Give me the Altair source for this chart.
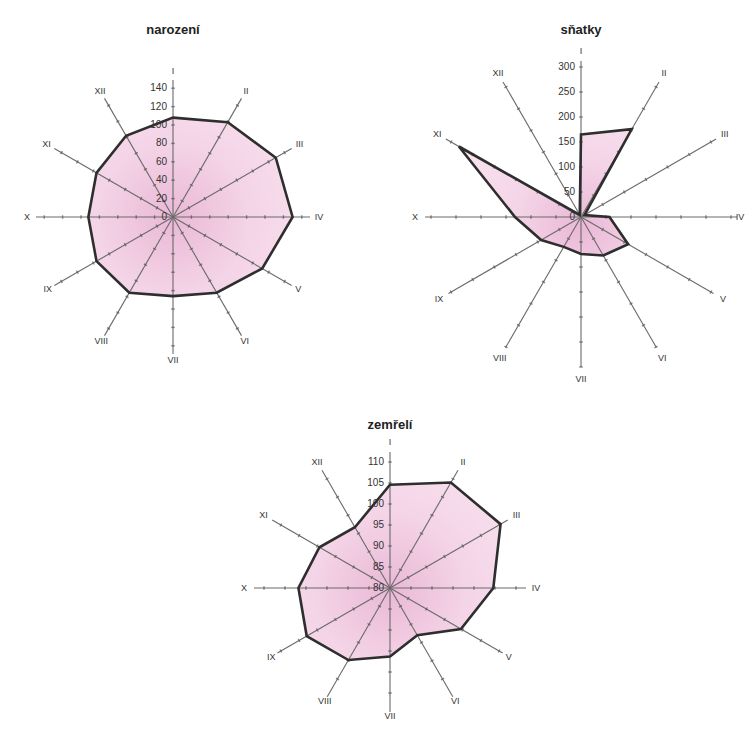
import math
import altair as alt
import pandas as pd

# ---- data ----
months = ["I", "II", "III", "IV", "V", "VI", "VII", "VIII", "IX", "X", "XI", "XII"]
narozeni = [108, 119, 129, 130, 112, 95, 86, 95, 96, 92, 96, 102]
snatky = [165, 203, 8, 57, 109, 89, 74, 69, 92, 132, 282, 5]
zemreli = [104.6, 109.0, 110.4, 104.6, 99.5, 93.0, 96.3, 99.8, 102.9, 101.8, 99.4, 96.7]
ticks_narozeni = [0, 20, 40, 60, 80, 100, 120, 140]
ticks_snatky = [0, 50, 100, 150, 200, 250, 300]
ticks_zemreli = [80, 85, 90, 95, 100, 105, 110]
titles = ["narození", "sňatky", "zemřelí"]

# ---- layout (page pixel coordinates) ----
layout = [
    dict(cx=173, cy=217, base=0, k=0.92, axis_r=137, axis_rb=137, label_r=146, label_rb=143, title_dy=-187),
    dict(cx=581, cy=217, base=0, k=0.50, axis_r=156, axis_rb=150, label_r=166, label_rb=162, title_dy=-187),
    dict(cx=390, cy=588, base=80, k=4.2, axis_r=136, axis_rb=124, label_r=146, label_rb=128, title_dy=-163),
]
series = [narozeni, snatky, zemreli]
tick_sets = [ticks_narozeni, ticks_snatky, ticks_zemreli]

poly_rows, spoke_rows, dot_rows, tlabel_rows, mlabel_rows, title_rows = [], [], [], [], [], []
for p, (lay, vals, ticks, title) in enumerate(zip(layout, series, tick_sets, titles)):
    cx, cy, base, k = lay["cx"], lay["cy"], lay["base"], lay["k"]
    for i, (m, v) in enumerate(zip(months, vals)):
        a = math.radians(i * 30)
        s, c = math.sin(a), math.cos(a)
        down = max(0.0, -c)
        r = (v - base) * k
        poly_rows.append(dict(panel=p, order=i, x=cx + r * s, y=cy - r * c))
        R = lay["axis_r"] - (lay["axis_r"] - lay["axis_rb"]) * down
        spoke_rows.append(dict(panel=p, x=cx, y=cy, x2=cx + R * s, y2=cy - R * c))
        L = lay["label_r"] - (lay["label_r"] - lay["label_rb"]) * down
        lx = min(cx + L * s, 740)
        mlabel_rows.append(dict(panel=p, text=m, x=lx, y=cy - L * c))
        for t in ticks[1:]:
            rt = (t - base) * k
            if rt <= R:
                dot_rows.append(dict(panel=p, x=cx + rt * s, y=cy - rt * c, ang=i * 30))
    for t in ticks:
        rt = (t - base) * k
        tlabel_rows.append(dict(panel=p, text=str(t), x=cx - 6, y=cy - rt))
    title_rows.append(dict(panel=p, text=title, x=cx, y=cy + lay["title_dy"]))

poly_df = pd.DataFrame(poly_rows)

xs = alt.Scale(domain=[8, 747], nice=False, zero=False)
ys = alt.Scale(domain=[8, 727], nice=False, zero=False, reverse=True)
X = lambda f: alt.X(f, type="quantitative", scale=xs, axis=None)
Y = lambda f: alt.Y(f, type="quantitative", scale=ys, axis=None)

# filled polygons: one layer per panel so the radial gradient centres on the radar centre
fills = []
for p, lay in enumerate(layout):
    sub = poly_df[poly_df.panel == p]
    x0, x1 = sub.x.min(), sub.x.max()
    y0, y1 = sub.y.min(), sub.y.max()
    gx = (lay["cx"] - x0) / max(x1 - x0, 1)
    gy = (lay["cy"] - y0) / max(y1 - y0, 1)
    grad = alt.RadialGradient(
        gradient="radial", x1=gx, y1=gy, r1=0, x2=gx, y2=gy, r2=0.75,
        stops=[alt.GradientStop(color="#eab8d6", offset=0),
               alt.GradientStop(color="#f4d4e7", offset=0.5),
               alt.GradientStop(color="#f8e2ee", offset=1)],
    )
    fills.append(
        alt.Chart(sub).mark_line(interpolate="linear-closed", fill=grad, strokeOpacity=0)
        .encode(x=X("x"), y=Y("y"), order="order:Q")
    )

spokes = alt.Chart(pd.DataFrame(spoke_rows)).mark_rule(color="#6a6a6a", strokeWidth=1.1).encode(
    x=X("x"), y=Y("y"), x2="x2", y2="y2"
)

dots = alt.Chart(pd.DataFrame(dot_rows)).mark_point(
    shape="M-1,0L1,0", size=12, color="#555555", strokeWidth=1.4, filled=False
).encode(x=X("x"), y=Y("y"), angle=alt.Angle("ang:Q", scale=None))

outline = alt.Chart(poly_df).mark_line(
    interpolate="linear-closed", color="#2e2e2e", strokeWidth=2.6, strokeJoin="miter"
).encode(x=X("x"), y=Y("y"), detail="panel:N", order="order:Q")

tlabels = alt.Chart(pd.DataFrame(tlabel_rows)).mark_text(
    align="right", baseline="middle", fontSize=10, font="Liberation Sans", color="#333333"
).encode(x=X("x"), y=Y("y"), text="text:N")

mlabels = alt.Chart(pd.DataFrame(mlabel_rows)).mark_text(
    align="center", baseline="middle", fontSize=9, font="Liberation Sans", color="#333333"
).encode(x=X("x"), y=Y("y"), text="text:N")

tlayer = alt.Chart(pd.DataFrame(title_rows)).mark_text(
    align="center", baseline="middle", fontSize=13, fontWeight="bold", font="Liberation Sans", color="#222222"
).encode(x=X("x"), y=Y("y"), text="text:N")

chart = alt.layer(*fills, spokes, dots, outline, tlabels, mlabels, tlayer).properties(
    width=739, height=719, padding=0, autosize=alt.AutoSizeParams(type="none")
).configure_view(stroke=None)

chart.save("out.html", embed_options={"renderer": "svg", "actions": False})
